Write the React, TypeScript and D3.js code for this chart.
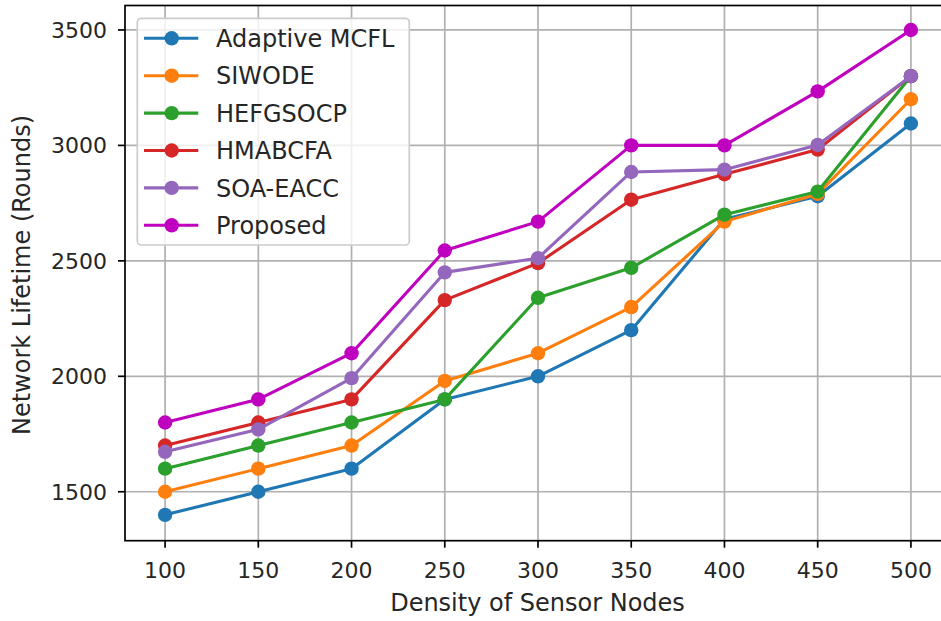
import React from 'react';
import * as d3 from 'd3';

// node density on the x axis
const densities = [100, 150, 200, 250, 300, 350, 400, 450, 500];

const adaptiveMcfl = [1400, 1500, 1600, 1900, 2000, 2200, 2680, 2780, 3095];
const siwode = [1500, 1600, 1700, 1980, 2100, 2300, 2670, 2790, 3200];
const hefgsocp = [1600, 1700, 1800, 1900, 2340, 2470, 2700, 2800, 3300];
const hmabcfa = [1700, 1800, 1900, 2330, 2490, 2765, 2875, 2982, 3300];
const soaEacc = [1673, 1770, 1992, 2450, 2512, 2885, 2895, 3002, 3300];
const proposed = [1800, 1900, 2100, 2545, 2670, 3000, 3000, 3234, 3500];

const seriesNames = ['Adaptive MCFL', 'SIWODE', 'HEFGSOCP', 'HMABCFA', 'SOA-EACC', 'Proposed'];
const seriesValues = [adaptiveMcfl, siwode, hefgsocp, hmabcfa, soaEacc, proposed];
const seriesColors = ['#1f77b4', '#ff7f0e', '#2ca02c', '#d62728', '#9467bd', '#bf00bf'];

const xTicks = [100, 150, 200, 250, 300, 350, 400, 450, 500];
const yTicks = [1500, 2000, 2500, 3000, 3500];

const W = 941;
const H = 621;
const FONT = '"DejaVu Sans", sans-serif';

const App = () => {
  const left = 125;
  const right = 951;
  const top = 5.5;
  const bottom = 540.7;

  const x = d3.scaleLinear().domain([78.5, 521.5]).range([left, right]);
  const y = d3.scaleLinear().domain([1288, 3606]).range([bottom, top]);

  const line = d3
    .line<number>()
    .x((_, i) => x(densities[i]))
    .y((d) => y(d));

  const legendX = 137.3;
  const legendY = 18.3;
  const rowGap = 37.4;

  return (
    <svg
      width={W}
      height={H}
      style={{ position: 'absolute', left: 0, top: 0, background: '#fff' }}
      fontFamily={FONT}
    >
      <rect x={0} y={0} width={W} height={H} fill="#fff" />

      {/* grid */}
      {xTicks.map((t) => (
        <line key={'gx' + t} x1={x(t)} x2={x(t)} y1={top} y2={bottom} stroke="#b0b0b0" strokeWidth={1.7} />
      ))}
      {yTicks.map((t) => (
        <line key={'gy' + t} x1={left} x2={right} y1={y(t)} y2={y(t)} stroke="#b0b0b0" strokeWidth={1.7} />
      ))}

      {/* series */}
      {seriesValues.map((vals, s) => (
        <g key={seriesNames[s]}>
          <path d={line(vals) || ''} fill="none" stroke={seriesColors[s]} strokeWidth={3.1} strokeLinejoin="round" />
          {vals.map((v, i) => (
            <circle key={i} cx={x(densities[i])} cy={y(v)} r={7.2} fill={seriesColors[s]} />
          ))}
        </g>
      ))}

      {/* spines */}
      <rect x={left} y={top} width={right - left} height={bottom - top} fill="none" stroke="#000" strokeWidth={1.7} />

      {/* x ticks */}
      {xTicks.map((t) => (
        <g key={'xt' + t}>
          <line x1={x(t)} x2={x(t)} y1={bottom} y2={bottom + 7} stroke="#000" strokeWidth={1.7} />
          <text x={x(t)} y={578} textAnchor="middle" fontSize={22} fill="#262626">
            {t}
          </text>
        </g>
      ))}

      {/* y ticks */}
      {yTicks.map((t) => (
        <g key={'yt' + t}>
          <line x1={left - 7} x2={left} y1={y(t)} y2={y(t)} stroke="#000" strokeWidth={1.7} />
          <text x={107} y={y(t) + 8} textAnchor="end" fontSize={22} fill="#262626">
            {t}
          </text>
        </g>
      ))}

      <text x={537.5} y={611} textAnchor="middle" fontSize={24} fill="#262626">
        Density of Sensor Nodes
      </text>
      <text
        transform={`translate(30, 275) rotate(-90)`}
        textAnchor="middle"
        fontSize={24}
        fill="#262626"
      >
        Network Lifetime (Rounds)
      </text>

      {/* legend */}
      <rect
        x={legendX}
        y={legendY}
        width={272}
        height={226.7}
        rx={4}
        fill="#fff"
        fillOpacity={0.8}
        stroke="#cccccc"
        strokeWidth={1.7}
      />
      {seriesNames.map((name, s) => {
        const cy = 38.3 + s * rowGap;
        return (
          <g key={'lg' + name}>
            <line x1={144} x2={198.3} y1={cy} y2={cy} stroke={seriesColors[s]} strokeWidth={3.1} />
            <circle cx={171.7} cy={cy} r={7.2} fill={seriesColors[s]} />
            <text x={216} y={cy + 8.6} fontSize={24} fill="#262626">
              {name}
            </text>
          </g>
        );
      })}
    </svg>
  );
};

export default App;
